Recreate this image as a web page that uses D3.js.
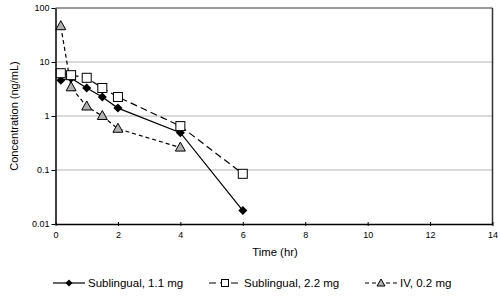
<!DOCTYPE html>
<html><head><meta charset="utf-8">
<script src="https://cdn.jsdelivr.net/npm/d3@7"></script>
<style>body{margin:0;background:#fff}svg{display:block}text{font-family:"Liberation Sans",Arial,sans-serif;fill:#000}</style>
</head><body><svg id="c" width="500" height="297"></svg>
<script>
const times = [0.17, 0.5, 1, 1.5, 2, 4, 6];
const timesIV = [0.17, 0.5, 1, 1.5, 2, 4];
const subl11 = [4.6, 5.0, 3.3, 2.25, 1.4, 0.49, 0.0177];
const subl22 = [6.2, 5.7, 5.1, 3.3, 2.25, 0.65, 0.085];
const iv02 = [46, 3.4, 1.5, 1.0, 0.58, 0.26];
const seriesNames = ["Sublingual, 1.1 mg", "Sublingual, 2.2 mg", "IV, 0.2 mg"];
const xTicks = [0, 2, 4, 6, 8, 10, 12, 14];
const yTicks = [0.01, 0.1, 1, 10, 100];
const yTickLabels = ["0.01", "0.1", "1", "10", "100"];

const svg = d3.select("#c");
const L = 55.5, R = 492.5, T = 8, B = 224;
const x = d3.scaleLinear().domain([0, 14]).range([L, R]);
const y = d3.scaleLog().domain([0.01, 100]).range([B, T]);

svg.append("g").selectAll("line").data(yTicks.slice(1, 4)).join("line")
  .attr("x1", L).attr("x2", R).attr("y1", d => y(d)).attr("y2", d => y(d))
  .attr("stroke", "#b4b4b4").attr("stroke-width", 1);
svg.append("line").attr("x1", L).attr("x2", R).attr("y1", T).attr("y2", T).attr("stroke", "#333").attr("stroke-width", 1);
svg.append("line").attr("x1", R).attr("x2", R).attr("y1", T).attr("y2", B).attr("stroke", "#333").attr("stroke-width", 1.5);

const xa = svg.append("g").attr("transform", `translate(0,${B})`)
  .call(d3.axisBottom(x).tickValues(xTicks).tickSize(3).tickSizeOuter(0));
xa.select(".domain").attr("stroke", "#000").attr("stroke-width", 1.5);
xa.selectAll(".tick line").attr("y1", -2).attr("y2", 2);
xa.selectAll("text").attr("font-size", 9).attr("dy", 0).attr("y", 14);

const ya = svg.append("g").attr("transform", `translate(${L},0)`)
  .call(d3.axisLeft(y).tickValues(yTicks).tickFormat((d, i) => yTickLabels[i]).tickSize(4).tickSizeOuter(0));
ya.select(".domain").attr("stroke", "#000").attr("stroke-width", 1.5);
ya.selectAll("text").attr("font-size", 9).attr("x", -6);

svg.append("text").attr("x", 275).attr("y", 256).attr("text-anchor", "middle").attr("font-size", 11.3).text("Time (hr)");
svg.append("text").attr("transform", `translate(18,${(T + B) / 2}) rotate(-90)`).attr("text-anchor", "middle").attr("font-size", 11).text("Concentration (ng/mL)");

const line = d3.line().x(d => x(d[0])).y(d => y(d[1]));
const series = [
  {t: times, v: subl11, dash: null, sym: "diamond"},
  {t: times, v: subl22, dash: "7,4", sym: "square"},
  {t: timesIV, v: iv02, dash: "4,3", sym: "triangle"}
];
function drawSym(g, type, cx, cy) {
  if (type === "diamond") {
    g.append("path").attr("d", `M${cx},${cy-4.5}L${cx+4.5},${cy}L${cx},${cy+4.5}L${cx-4.5},${cy}Z`).attr("fill", "#000");
  } else if (type === "square") {
    g.append("rect").attr("x", cx - 4.5).attr("y", cy - 4.5).attr("width", 9).attr("height", 9).attr("fill", "#fff").attr("stroke", "#000").attr("stroke-width", 1);
  } else {
    g.append("path").attr("d", `M${cx},${cy-5.5}L${cx+5},${cy+3.5}L${cx-5},${cy+3.5}Z`).attr("fill", "#b0b0b0").attr("stroke", "#000").attr("stroke-width", 1);
  }
}
series.forEach(s => {
  const pts = s.t.map((t, i) => [t, s.v[i]]);
  svg.append("path").datum(pts).attr("d", line).attr("fill", "none").attr("stroke", "#000").attr("stroke-width", 1.2)
    .attr("stroke-dasharray", s.dash);
});
series.forEach(s => {
  const g = svg.append("g");
  s.t.forEach((t, i) => drawSym(g, s.sym, x(t), y(s.v[i])));
});

const legX = [53, 209, 365], legY = 283;
series.forEach((s, i) => {
  const g = svg.append("g");
  g.append("line").attr("x1", legX[i]).attr("x2", legX[i] + 32).attr("y1", legY).attr("y2", legY)
    .attr("stroke", "#000").attr("stroke-width", 1.2).attr("stroke-dasharray", s.dash);
  const cx = legX[i] + 16;
  if (s.sym === "diamond") g.append("path").attr("d", `M${cx},${legY-3.5}L${cx+3.5},${legY}L${cx},${legY+3.5}L${cx-3.5},${legY}Z`).attr("fill", "#000");
  else if (s.sym === "square") g.append("rect").attr("x", cx - 3.5).attr("y", legY - 3.5).attr("width", 7).attr("height", 7).attr("fill", "#fff").attr("stroke", "#000");
  else g.append("path").attr("d", `M${cx},${legY-4}L${cx+4},${legY+3}L${cx-4},${legY+3}Z`).attr("fill", "#b0b0b0").attr("stroke", "#000");
  g.append("text").attr("x", legX[i] + 35).attr("y", legY + 4).attr("font-size", 11.5).text(seriesNames[i]);
});
</script></body></html>
